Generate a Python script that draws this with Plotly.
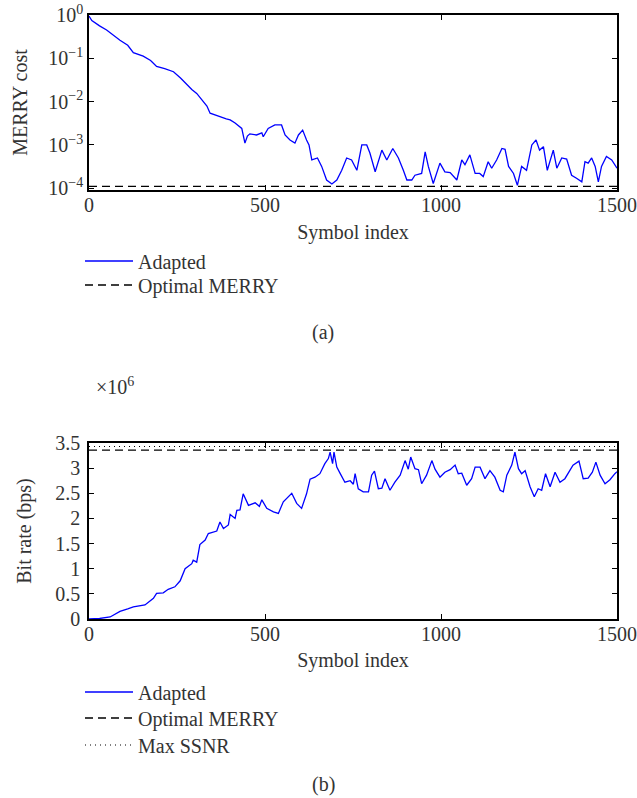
import plotly.graph_objects as go

# ---------------- data (a) MERRY cost ----------------
cost_sym = [0, 5, 8, 30, 50, 88, 110, 126, 154, 175, 192, 215, 240, 260, 278, 292, 306, 325, 335, 344,
            358, 372, 390, 401, 415, 434, 443, 450, 457, 476, 491, 495, 509, 528, 547, 557, 571, 585, 595,
            607, 618, 625, 633, 649, 661, 675, 690, 704, 718, 732, 746, 761, 775, 789, 798, 813, 832, 846,
            863, 879, 893, 903, 917, 926, 945, 955, 964, 978, 997, 1011, 1026, 1045, 1059, 1068, 1082,
            1097, 1110, 1120, 1134, 1144, 1158, 1173, 1182, 1192, 1206, 1217, 1229, 1243, 1258, 1270,
            1280, 1291, 1302, 1319, 1329, 1343, 1357, 1371, 1385, 1400, 1409, 1418, 1428, 1438, 1447,
            1456, 1470, 1485, 1500]
cost_val = [0.95, 0.82, 0.74, 0.56, 0.45, 0.26, 0.20, 0.135, 0.112, 0.089, 0.065, 0.058, 0.049, 0.035,
            0.024, 0.019, 0.0155, 0.010, 0.0079, 0.0054, 0.0050, 0.0045, 0.0040, 0.0038, 0.0032, 0.0024,
            0.0011, 0.0016, 0.0018, 0.0017, 0.0019, 0.00155, 0.0024, 0.0029, 0.0029, 0.0017, 0.0013,
            0.0011, 0.0017, 0.0022, 0.0013, 0.0010, 0.00045, 0.0005, 0.00032, 0.000155, 0.000126,
            0.000155, 0.00026, 0.0005, 0.00045, 0.00026, 0.0010, 0.0010, 0.00065, 0.00024, 0.00076,
            0.00045, 0.00083, 0.0005, 0.00026, 0.000155, 0.000155, 0.0002, 0.00022, 0.00069, 0.00032,
            0.000129, 0.00038, 0.00024, 0.00023, 0.000155, 0.00045, 0.00035, 0.00059, 0.00022, 0.00022,
            0.000186, 0.00041, 0.00029, 0.00045, 0.00083, 0.00079, 0.00032, 0.00022, 0.000117, 0.00032,
            0.00026, 0.0010, 0.0013, 0.00076, 0.00091, 0.00026, 0.00076, 0.00029, 0.0005, 0.00047,
            0.0002, 0.00017, 0.000141, 0.00041, 0.00038, 0.0005, 0.00032, 0.000141, 0.00032, 0.00054,
            0.00045, 0.00029]
opt_cost = 1.1e-4

# ---------------- data (b) bit rate (x 10^6 bps) ----------------
rate_sym = [0, 30, 60, 75, 88, 110, 126, 159, 183, 192, 211, 225, 244, 259, 273, 292, 296, 306, 315,
            330, 339, 363, 372, 382, 396, 401, 415, 420, 429, 438, 453, 472, 484, 491, 505, 524, 538,
            552, 566, 576, 590, 604, 618, 628, 642, 656, 670, 680, 685, 692, 696, 704, 713, 727, 742,
            751, 756, 765, 779, 794, 803, 811, 822, 832, 841, 855, 869, 884, 898, 907, 914, 926, 936,
            945, 959, 974, 983, 997, 1011, 1026, 1040, 1049, 1059, 1073, 1087, 1097, 1111, 1125, 1139,
            1153, 1168, 1177, 1187, 1201, 1210, 1220, 1229, 1239, 1253, 1265, 1276, 1286, 1297, 1310,
            1324, 1338, 1352, 1366, 1375, 1392, 1404, 1418, 1430, 1440, 1452, 1466, 1480, 1494, 1500]
rate_val = [0.0, 0.01, 0.04, 0.10, 0.15, 0.20, 0.24, 0.28, 0.41, 0.51, 0.52, 0.59, 0.64, 0.76, 1.0,
            1.10, 1.17, 1.13, 1.48, 1.57, 1.70, 1.75, 1.93, 1.80, 1.87, 2.08, 2.0, 2.16, 2.17, 2.49,
            2.26, 2.31, 2.24, 2.37, 2.20, 2.13, 2.10, 2.33, 2.43, 2.50, 2.30, 2.20, 2.49, 2.78, 2.82,
            2.89, 3.09, 3.19, 3.32, 3.09, 3.32, 3.02, 2.90, 2.72, 2.75, 2.68, 2.89, 2.59, 2.53, 2.53,
            2.86, 2.94, 2.59, 2.60, 2.79, 2.56, 2.72, 2.86, 3.15, 2.98, 3.22, 2.99, 2.97, 2.69, 2.86,
            3.15, 2.98, 2.82, 2.92, 2.97, 3.06, 2.89, 2.90, 2.66, 2.79, 3.02, 3.02, 2.79, 2.95, 2.82,
            2.56, 2.53, 2.86, 3.06, 3.32, 2.99, 2.89, 2.95, 2.63, 2.43, 2.59, 2.56, 2.89, 2.63, 2.92,
            2.72, 2.79, 2.95, 3.06, 3.14, 2.79, 2.80, 2.92, 3.12, 2.86, 2.69, 2.77, 2.89, 2.93]
opt_rate = 3.36
ssnr_rate = 3.43

x_span = [0, 1500]
x_ticks = [0, 500, 1000, 1500]
cost_tickvals = [1e-4, 1e-3, 1e-2, 1e-1, 1e0]
cost_ticktext = ["10<sup>\u22124</sup>", "10<sup>\u22123</sup>", "10<sup>\u22122</sup>",
                 "10<sup>\u22121</sup>", "10<sup>0</sup>"]
rate_ticks = [0, 0.5, 1, 1.5, 2, 2.5, 3, 3.5]
rate_ticktext = ["0", "0.5", "1", "1.5", "2", "2.5", "3", "3.5"]

FONT = "Liberation Serif"
TXT = "#333333"
BLUE = "#0000ff"
FS = 20

W, H = 637, 798
L, R = 89, W - 617
T, B = 15, H - 619
PW, PH = W - L - R, H - T - B


def py(p):
    """window pixel row -> paper y"""
    return (H - B - p) / PH


def px(p):
    """window pixel column -> paper x"""
    return (p - L) / PW


fig = go.Figure()
fig.add_trace(go.Scatter(x=cost_sym, y=cost_val, mode="lines", name="Adapted",
                         line=dict(color=BLUE, width=1.3), xaxis="x", yaxis="y", legend="legend"))
fig.add_trace(go.Scatter(x=x_span, y=[opt_cost, opt_cost], mode="lines", name="Optimal MERRY",
                         line=dict(color="black", width=1.3, dash="8px,5px"), xaxis="x", yaxis="y",
                         legend="legend2"))

fig.add_trace(go.Scatter(x=rate_sym, y=rate_val, mode="lines", name="Adapted",
                         line=dict(color=BLUE, width=1.3), xaxis="x2", yaxis="y2", legend="legend3"))
fig.add_trace(go.Scatter(x=x_span, y=[opt_rate, opt_rate], mode="lines", name="Optimal MERRY",
                         line=dict(color="black", width=1.3, dash="8px,5px"), xaxis="x2", yaxis="y2",
                         legend="legend4"))
fig.add_trace(go.Scatter(x=x_span, y=[ssnr_rate, ssnr_rate], mode="lines", name="Max SSNR",
                         line=dict(color="black", width=1.1, dash="1px,4px"), xaxis="x2", yaxis="y2",
                         legend="legend5"))

tf = dict(family=FONT, size=FS, color=TXT)
axis_common = dict(showline=True, linecolor="black", linewidth=1.5, mirror="ticks", ticks="inside",
                   ticklen=5, tickcolor="black", showgrid=False, zeroline=False, automargin=False,
                   tickfont=tf, ticklabeloverflow="allow")


def leg(row):
    return dict(x=px(80), y=py(row), xanchor="left", yanchor="middle", bgcolor="rgba(0,0,0,0)",
                font=tf, itemwidth=48, borderwidth=0)


fig.update_layout(
    width=W, height=H,
    margin=dict(l=L, r=R, t=T, b=B),
    paper_bgcolor="white", plot_bgcolor="white",
    font=tf,
    xaxis=dict(domain=[0, 1], range=x_span, tickvals=x_ticks, anchor="y", ticklabelstandoff=-4,
               title=dict(text="Symbol index", font=tf, standoff=10), **axis_common),
    yaxis=dict(domain=[py(190), 1.0], type="log", range=[-4.04, 0], tickvals=cost_tickvals,
               ticktext=cost_ticktext, anchor="x", ticklabelstandoff=0,
               title=dict(text="MERRY cost", font=tf, standoff=15), **axis_common),
    xaxis2=dict(domain=[0, 1], range=x_span, tickvals=x_ticks, anchor="y2", ticklabelstandoff=-4,
                title=dict(text="Symbol index", font=tf, standoff=9), **axis_common),
    yaxis2=dict(domain=[0, py(443)], range=[0, 3.5], tickvals=rate_ticks, ticktext=rate_ticktext,
                anchor="x2", ticklabelstandoff=3,
                title=dict(text="Bit rate (bps)", font=tf, standoff=18), **axis_common),
    legend=leg(261),
    legend2=leg(285),
    legend3=leg(692),
    legend4=leg(718),
    legend5=leg(745),
    annotations=[
        dict(text="(a)", xref="paper", yref="paper", x=px(323), y=py(332), showarrow=False, font=tf),
        dict(text="(b)", xref="paper", yref="paper", x=px(323), y=py(798), yanchor="bottom",
             showarrow=False, font=tf),
        dict(text="\u00d710<sup>6</sup>", xref="paper", yref="paper", x=px(94), y=py(386),
             xanchor="left", showarrow=False, font=tf),
    ],
    showlegend=True,
)

# the page's default 8px body margin would shift the fixed-size figure; remove it
fig.write_html("out.html", config={"displayModeBar": False},
               post_script="document.body.style.margin='0px';")
